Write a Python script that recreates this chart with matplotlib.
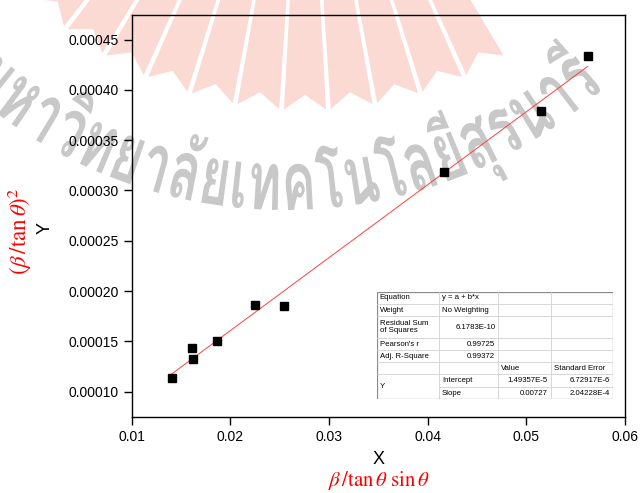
import numpy as np
import matplotlib
matplotlib.use("Agg")
import matplotlib.pyplot as plt
from matplotlib import ft2font
from matplotlib.font_manager import fontManager, FontProperties
from matplotlib.patches import Polygon, PathPatch, Rectangle
from matplotlib.path import Path
from matplotlib.textpath import TextPath
from matplotlib.transforms import Affine2D

# Messwerte
x = np.array([0.01405, 0.01608, 0.01621, 0.01868, 0.02247, 0.02541, 0.04165, 0.05152, 0.05622])
y = np.array([1.139e-4, 1.431e-4, 1.328e-4, 1.504e-4, 1.862e-4, 1.852e-4, 3.184e-4, 3.793e-4, 4.337e-4])

x_ticks = [0.01, 0.02, 0.03, 0.04, 0.05, 0.06]
y_ticks = [0.00010, 0.00015, 0.00020, 0.00025, 0.00030, 0.00035, 0.00040, 0.00045]

fit_rows = [
    ["Equation", "y = a + b*x", "", ""],
    ["Weight", "No Weighting", "", ""],
    ["Residual Sum\nof Squares", "6.1783E-10", "", ""],
    ["Pearson's r", "0.99725", "", ""],
    ["Adj. R-Square", "0.99372", "", ""],
    ["", "", "Value", "Standard Error"],
    ["Y", "Intercept", "1.49357E-5", "6.72917E-6"],
    ["", "Slope", "0.00727", "2.04228E-4"],
]

watermark = "มหาวิทยาลัยเทคโนโลยีสุรนารี"

plt.rcParams["font.family"] = ["Liberation Sans", "DejaVu Sans"]
plt.rcParams["mathtext.fontset"] = "stix"

W, H = 641, 493
fig = plt.figure(figsize=(W / 100, H / 100), dpi=100)
# Pixelkoordinaten (y nach unten) -> figure
px = Affine2D().scale(1 / W, -1 / H).translate(0, 1) + fig.transFigure

# Wasserzeichen: Strahlen der Sonne
sx0, sy0 = 305, -279
for k in range(-6, 5):
    a = np.deg2rad(k * 6.9)
    hw = np.deg2rad(3.1)
    r_in, r_out, notch = 150, 389, 15
    pts = [(sx0 + r * np.sin(ang), sy0 + r * np.cos(ang))
           for ang, r in [(a - hw, r_in), (a + hw, r_in), (a + hw, r_out), (a, r_out - notch), (a - hw, r_out)]]
    fig.patches.append(Polygon(pts, closed=True, fc="#fbdad4", ec="none", transform=px, zorder=-2))


def thai_font():
    for f in fontManager.ttflist:
        try:
            if ft2font.FT2Font(f.fname).get_char_index(0x0E21):
                return f.fname
        except Exception:
            pass
    return None


fname = thai_font()
if fname:
    fp = FontProperties(fname=fname)

    def tw(s):
        return TextPath((0, 0), s, size=100, prop=fp).get_extents().x1 if s else 0.0

    tp = TextPath((0, 0), watermark, size=100, prop=fp)
    h_t = TextPath((0, 0), "ท", size=100, prop=fp).get_extents().height
    u_h = (tw("ม") + tw("มห")) / 2
    u_r = (tw(watermark[:-2]) + tw(watermark)) / 2
    tcx, tcy, r_mid, g_h = 285, -268, 455, 46
    phi_h, phi_r = np.arcsin(-270 / r_mid), np.arcsin(292 / r_mid)
    v = tp.vertices
    phi = phi_h + (v[:, 0] - u_h) * (phi_r - phi_h) / (u_r - u_h)
    rad = r_mid + g_h / 2 - v[:, 1] * g_h / h_t
    xs = tcx + rad * np.sin(phi)
    ys = tcy + rad * np.cos(phi)
    fig.patches.append(PathPatch(Path(np.column_stack([xs, ys]), tp.codes), fc="#c8c8c8", ec="none",
                                 transform=px, zorder=-2))

ax = fig.add_axes([131.7 / W, 1 - 416.5 / H, (625 - 131.7) / W, (416.5 - 15) / H])
ax.patch.set_alpha(0)

ax.plot(x, y, "s", color="black", markersize=6, zorder=3)
b, a0 = np.polyfit(x, y, 1)
x_fit = np.linspace(x.min(), x.max(), 100)
ax.plot(x_fit, a0 + b * x_fit, "-", color="#ff4040", lw=0.7, zorder=2)

ax.set_xlim(0.01, 0.06)
ax.set_ylim(7.53e-5, 4.744e-4)
ax.set_xticks(x_ticks)
ax.set_xticklabels([f"{t:.2f}" for t in x_ticks])
ax.set_yticks(y_ticks)
ax.set_yticklabels([f"{t:.5f}" for t in y_ticks])
ax.tick_params(direction="out", length=5.5, width=1, labelsize=10, pad=4, top=False, right=False)
for s in ax.spines.values():
    s.set_linewidth(1.0)

fig.text(379 / W, 1 - 460 / H, "X", ha="center", va="center", fontsize=13)
fig.text(379 / W, 1 - 492 / H, r"$\beta\,/\tan\theta\ \sin\theta$", ha="center", va="bottom",
         fontsize=15, color="red")
fig.text(45 / W, 1 - 228 / H, "Y", ha="center", va="center", fontsize=13, rotation=90)
fig.text(20 / W, 1 - 231 / H, r"$(\beta\,/\tan\theta)^2$", ha="center", va="center",
         fontsize=16.5, color="red", rotation=90)

# Fit-Tabelle
col_x = [0, 62.3, 121.6, 174, 236]
row_y = [0, 12.3, 24.3, 46.6, 58.6, 70.6, 82.6, 95, 107.6]
tab = fig.add_axes([376.7 / W, 1 - 399.3 / H, 236 / W, 107.6 / H])
tab.set_xlim(0, 236)
tab.set_ylim(107.6, 0)
tab.axis("off")
tab.add_patch(Rectangle((0, 0), 236, 107.6, fc="white", ec="none"))
for cxl in col_x[1:-1]:
    tab.plot([cxl, cxl], [0, 107.6], color="#d0d0d0", lw=0.6)
for i, ry in enumerate(row_y[1:-1], start=1):
    x0 = col_x[1] if i == 7 else 0
    tab.plot([x0, 236], [ry, ry], color="#d0d0d0", lw=0.6)
tab.add_patch(Rectangle((0, 0), 236, 107.6, fc="none", ec="#8a8a8a", lw=0.9))
for r, row in enumerate(fit_rows):
    for c, txt in enumerate(row):
        if not txt:
            continue
        yc = (row_y[r] + row_y[r + 1]) / 2
        if r == 6 and c == 0:
            yc = (row_y[6] + row_y[8]) / 2
        right = (c == 1 and 2 <= r <= 4) or (c >= 2 and r >= 6)
        if right:
            tab.text(col_x[c + 1] - 3, yc, txt, ha="right", va="center", fontsize=5.6)
        else:
            tab.text(col_x[c] + 3, yc, txt, ha="left", va="center", fontsize=5.6, linespacing=1.1)

fig.savefig("out.png", dpi=100)
